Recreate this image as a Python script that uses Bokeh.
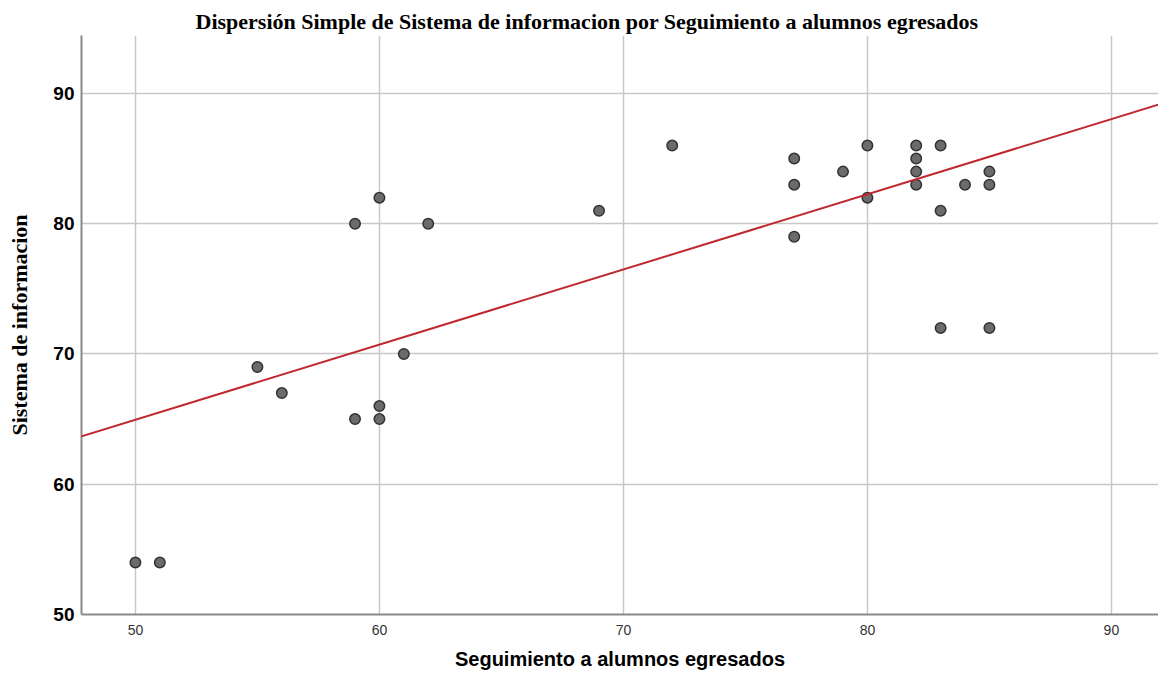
from bokeh.plotting import figure
from bokeh.models import Range1d, FixedTicker, Slope
from bokeh.embed import file_html
from bokeh.resources import INLINE

# Data
seguimiento = [50, 51, 55, 56, 59, 59, 60, 60, 60, 61, 62, 69, 72, 77, 77, 77, 79,
               80, 80, 82, 82, 82, 82, 83, 83, 83, 84, 85, 85, 85]
sistema = [54, 54, 69, 67, 80, 65, 82, 66, 65, 70, 80, 81, 86, 85, 83, 79, 84,
           86, 82, 86, 85, 84, 83, 86, 81, 72, 83, 84, 83, 72]
fit_intercept = 36.1
fit_slope = 0.577
x_ticks = [50, 60, 70, 80, 90]
y_ticks = [50, 60, 70, 80, 90]

p = figure(width=1158, height=672, output_backend="svg", toolbar_location=None,
           x_range=Range1d(47.79, 91.93), y_range=Range1d(50, 94.45),
           min_border_left=81, min_border_right=0, min_border_top=35, min_border_bottom=58,
           title="Dispersión Simple de Sistema de informacion por Seguimiento a alumnos egresados")

p.title.align = "left"
p.title.text_font = "Liberation Serif"
p.title.text_font_size = "22px"
p.title.text_font_style = "bold"
p.title.text_color = "#000000"
p.title.offset = 114
p.title.standoff = 4

p.outline_line_color = None
p.background_fill_color = "white"
p.border_fill_color = "white"

p.xgrid.ticker = FixedTicker(ticks=x_ticks)
p.ygrid.ticker = FixedTicker(ticks=y_ticks)
p.xaxis.ticker = FixedTicker(ticks=x_ticks)
p.yaxis.ticker = FixedTicker(ticks=y_ticks)
p.grid.grid_line_color = "#c8c8c8"
p.grid.grid_line_width = 1.5

for ax in (p.xaxis[0], p.yaxis[0]):
    ax.major_tick_line_color = None
    ax.minor_tick_line_color = None
    ax.major_tick_out = 0
    ax.major_tick_in = 0
    ax.minor_tick_out = 0
    ax.minor_tick_in = 0
    ax.axis_line_color = "#8a8a8a"
    ax.axis_line_width = 2

p.xaxis.axis_label = "Seguimiento a alumnos egresados"
p.xaxis.axis_label_text_font = "Liberation Sans"
p.xaxis.axis_label_text_font_size = "20px"
p.xaxis.axis_label_text_font_style = "bold"
p.xaxis.axis_label_text_color = "#000000"
p.xaxis.axis_label_standoff = 10
p.xaxis.major_label_text_font = "Liberation Sans"
p.xaxis.major_label_text_font_size = "14px"
p.xaxis.major_label_text_color = "#333333"
p.xaxis.major_label_standoff = 10

p.yaxis.axis_label = "Sistema de informacion"
p.yaxis.axis_label_text_font = "Liberation Serif"
p.yaxis.axis_label_text_font_size = "22px"
p.yaxis.axis_label_text_font_style = "bold"
p.yaxis.axis_label_text_color = "#000000"
p.yaxis.axis_label_standoff = 18
p.yaxis.major_label_text_font = "Liberation Sans"
p.yaxis.major_label_text_font_size = "19px"
p.yaxis.major_label_text_font_style = "bold"
p.yaxis.major_label_text_color = "#000000"
p.yaxis.major_label_standoff = 7

p.add_layout(Slope(gradient=fit_slope, y_intercept=fit_intercept,
                   line_color="#c0282d", line_width=2))

p.scatter(seguimiento, sistema, size=10.5, fill_color="#6b6b6b",
          line_color="#333333", line_width=1.5)

open("out.html", "w").write(file_html(p, INLINE))
